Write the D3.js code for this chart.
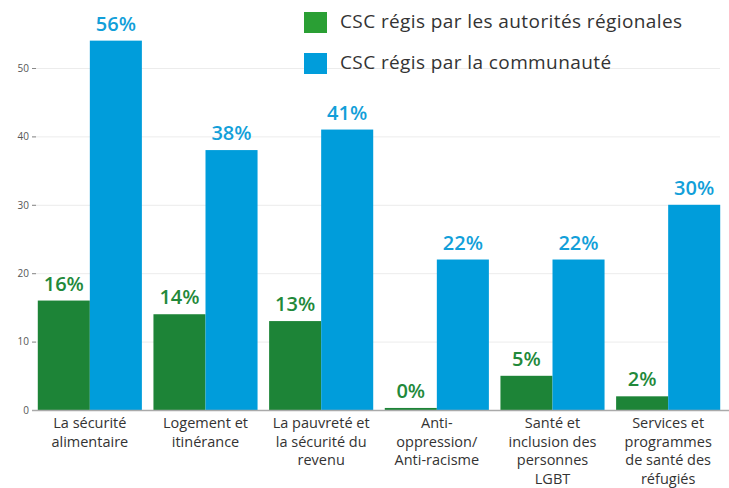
<!DOCTYPE html>
<html>
  <head>
    <meta charset="utf-8">
    <title>CSC</title>
    <script src="https://cdn.jsdelivr.net/npm/d3@7"></script>
    <style>
      body { margin: 0; background: #fff; font-family: "Open Sans", sans-serif; }
      #chart { display: block; }
      .yAxis text { font-size: 10px; fill: #555; }
      .catLabel { font-size: 14.5px; fill: #333; }
      .valLabel { font-size: 20px; font-weight: 600; }
      .legendText { font-size: 19px; fill: #333; letter-spacing: 0.4px; }
    </style>
  </head>
  <body>
    <svg id="chart" width="729" height="488"></svg>

    <script>
      // data
      categories = [
        ["La sécurité", "alimentaire"],
        ["Logement et", "itinérance"],
        ["La pauvreté et", "la sécurité du", "revenu"],
        ["Anti-", "oppression/", "Anti-racisme"],
        ["Santé et", "inclusion des", "personnes", "LGBT"],
        ["Services et", "programmes", "de santé des", "réfugiés"]
      ];
      regionalValues = [16, 14, 13, 0.3, 5, 2];
      communityValues = [54, 38, 41, 22, 22, 30];
      regionalLabels = ["16%", "14%", "13%", "0%", "5%", "2%"];
      communityLabels = ["56%", "38%", "41%", "22%", "22%", "30%"];
      seriesNames = ["CSC régis par les autorités régionales", "CSC régis par la communauté"];
      yTicks = [0, 10, 20, 30, 40, 50];

      barColors = ["#1d8437", "#009ddb"];
      legendColors = ["#2a9f34", "#009ddb"];
      labelColors = ["#22893a", "#129fd9"];

      // elements
      chart = d3.select("#chart");
      width = 729;
      height = 488;
      margin = { top: 0, right: 3, bottom: 78, left: 32 };

      x = d3.scaleBand()
        .domain(d3.range(categories.length))
        .range([margin.left, width - margin.right])
        .paddingInner(0.1)
        .paddingOuter(0.05);

      xSub = d3.scaleBand()
        .domain([0, 1])
        .range([0, x.bandwidth()]);

      y = d3.scaleLinear()
        .domain([0, 60])
        .range([height - margin.bottom, height - margin.bottom - 6.84 * 60]);

      // gridlines
      chart.append("g")
        .selectAll("line")
        .data(yTicks.slice(1))
        .enter().append("line")
          .attr("x1", margin.left)
          .attr("x2", 720)
          .attr("y1", d => y(d) + 0.5)
          .attr("y2", d => y(d) + 0.5)
          .style("stroke", "#ececec");

      // y axis
      yAxis = d3.axisLeft(y)
        .tickValues(yTicks)
        .tickSize(4)
        .tickPadding(3);
      chart.append("g")
        .classed("yAxis", true)
        .attr("transform", "translate(" + (margin.left + 4) + ",0)")
        .call(yAxis)
        .call(g => g.select(".domain").remove())
        .call(g => g.selectAll(".tick line").style("stroke", "#888"))
        .call(g => g.selectAll("text").style("font-family", "'Open Sans', sans-serif"));

      // bars
      series = [regionalValues, communityValues];
      series.forEach((vals, s) => {
        chart.append("g")
          .selectAll("rect")
          .data(vals)
          .enter().append("rect")
            .attr("x", (d, i) => x(i) + xSub(s))
            .attr("y", d => y(d))
            .attr("width", xSub.bandwidth())
            .attr("height", d => y(0) - y(d))
            .style("fill", barColors[s]);
      });

      // baseline
      chart.append("line")
        .attr("x1", margin.left)
        .attr("x2", width)
        .attr("y1", y(0) + 0.5)
        .attr("y2", y(0) + 0.5)
        .style("stroke", "#aaa")
        .style("stroke-width", 1.5);

      // value labels
      labels = [regionalLabels, communityLabels];
      labels.forEach((labs, s) => {
        chart.append("g")
          .selectAll("text")
          .data(labs)
          .enter().append("text")
            .classed("valLabel", true)
            .attr("x", (d, i) => x(i) + xSub(s) + xSub.bandwidth() / 2)
            .attr("y", (d, i) => y(series[s][i]) - 10)
            .attr("text-anchor", "middle")
            .style("fill", labelColors[s])
            .text(d => d);
      });

      // category labels
      cats = chart.append("g")
        .selectAll("text")
        .data(categories)
        .enter().append("text")
          .classed("catLabel", true)
          .attr("text-anchor", "middle")
          .attr("x", (d, i) => x(i) + x.bandwidth() / 2)
          .attr("y", 428);
      cats.selectAll("tspan")
        .data(d => d)
        .enter().append("tspan")
          .attr("x", function() { return d3.select(this.parentNode).attr("x"); })
          .attr("dy", (d, i) => i == 0 ? 0 : 18.7)
          .text(d => d);

      // legend
      legend = chart.append("g")
        .selectAll("g")
        .data(seriesNames)
        .enter().append("g")
          .attr("transform", (d, i) => "translate(304," + (12 + i * 41) + ")");
      legend.append("rect")
        .attr("width", 23)
        .attr("height", 21)
        .style("fill", (d, i) => legendColors[i]);
      legend.append("text")
        .classed("legendText", true)
        .attr("x", 36)
        .attr("y", 16)
        .text(d => d);
    </script>
  </body>
</html>
